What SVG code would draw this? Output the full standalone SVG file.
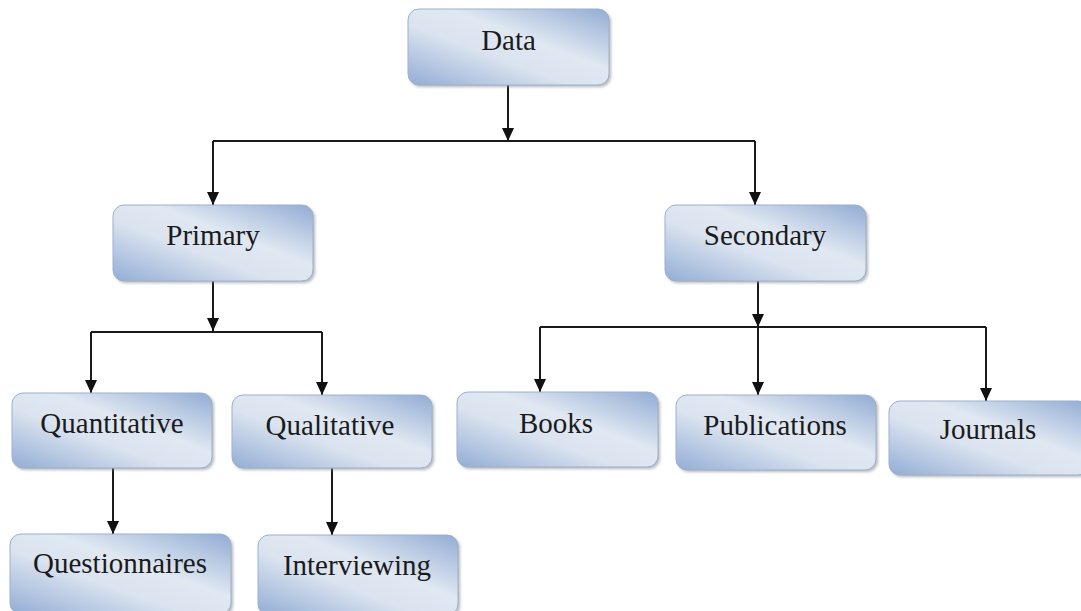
<svg xmlns="http://www.w3.org/2000/svg" width="1081" height="611" viewBox="0 0 1081 611">
<style>
.box{fill:url(#g);stroke:#9fb0c8;stroke-width:1}
.sh{fill:#7f8a9c;opacity:0.6;filter:url(#b)}
.t{font-family:"Liberation Serif","Times New Roman",serif;font-size:29px;fill:#1b1b1b;text-anchor:middle}
.c{fill:none;stroke:#1a1a1a;stroke-width:2}
.a{marker-end:url(#arr)}
</style>
<defs>
<linearGradient id="g" x1="0" y1="1" x2="1" y2="0">
<stop offset="0" stop-color="#93add5"/>
<stop offset="0.4" stop-color="#dae3ef"/>
<stop offset="0.6" stop-color="#e0e8f2"/>
<stop offset="1" stop-color="#92acd4"/>
</linearGradient>
<filter id="b" x="-10%" y="-10%" width="120%" height="130%"><feGaussianBlur stdDeviation="1.5"/></filter>
<marker id="arr" markerUnits="userSpaceOnUse" markerWidth="14" markerHeight="12" refX="13" refY="6" orient="auto" viewBox="0 0 14 12">
<path d="M0,0 L13,6 L0,12 Z" fill="#111"/>
</marker>
</defs>
<g id="connectors">
<path class="c a" d="M508,85 V141"/>
<path class="c" d="M213,141 H755"/>
<path class="c a" d="M213,141 V205"/>
<path class="c a" d="M755,141 V205"/>
<path class="c a" d="M213,281 V331"/>
<path class="c" d="M91,332 H322"/>
<path class="c a" d="M91,332 V393"/>
<path class="c a" d="M322,332 V395"/>
<path class="c a" d="M758,281 V327"/>
<path class="c" d="M540,327 H986"/>
<path class="c a" d="M540,327 V392"/>
<path class="c a" d="M758,327 V395"/>
<path class="c a" d="M986,327 V401"/>
<path class="c a" d="M113,468 V534"/>
<path class="c a" d="M332,468 V535"/>
</g>
<g id="data"><rect class="sh" x="410" y="11" width="201" height="76" rx="11"/><rect class="box" x="408" y="9" width="201" height="76" rx="11"/><text class="t" x="508.5" y="50">Data</text></g>
<g id="primary"><rect class="sh" x="115" y="207" width="200" height="76" rx="11"/><rect class="box" x="113" y="205" width="200" height="76" rx="11"/><text class="t" x="213" y="245">Primary</text></g>
<g id="secondary"><rect class="sh" x="667" y="207" width="201" height="76" rx="11"/><rect class="box" x="665" y="205" width="201" height="76" rx="11"/><text class="t" x="765" y="245">Secondary</text></g>
<g id="quantitative"><rect class="sh" x="14" y="395" width="200" height="75" rx="11"/><rect class="box" x="12" y="393" width="200" height="75" rx="11"/><text class="t" x="112" y="433">Quantitative</text></g>
<g id="qualitative"><rect class="sh" x="234" y="397" width="200" height="73" rx="11"/><rect class="box" x="232" y="395" width="200" height="73" rx="11"/><text class="t" x="330" y="435">Qualitative</text></g>
<g id="books"><rect class="sh" x="459" y="394" width="201" height="75" rx="11"/><rect class="box" x="457" y="392" width="201" height="75" rx="11"/><text class="t" x="556" y="433">Books</text></g>
<g id="publications"><rect class="sh" x="678" y="397" width="200" height="75" rx="11"/><rect class="box" x="676" y="395" width="200" height="75" rx="11"/><text class="t" x="775" y="435">Publications</text></g>
<g id="journals"><rect class="sh" x="891" y="403" width="200" height="74" rx="11"/><rect class="box" x="889" y="401" width="200" height="74" rx="11"/><text class="t" x="988" y="439">Journals</text></g>
<g id="questionnaires"><rect class="sh" x="12" y="536" width="221" height="80" rx="11"/><rect class="box" x="10" y="534" width="221" height="80" rx="11"/><text class="t" x="120" y="573">Questionnaires</text></g>
<g id="interviewing"><rect class="sh" x="260" y="537" width="200" height="80" rx="11"/><rect class="box" x="258" y="535" width="200" height="80" rx="11"/><text class="t" x="357" y="575">Interviewing</text></g>
</svg>
